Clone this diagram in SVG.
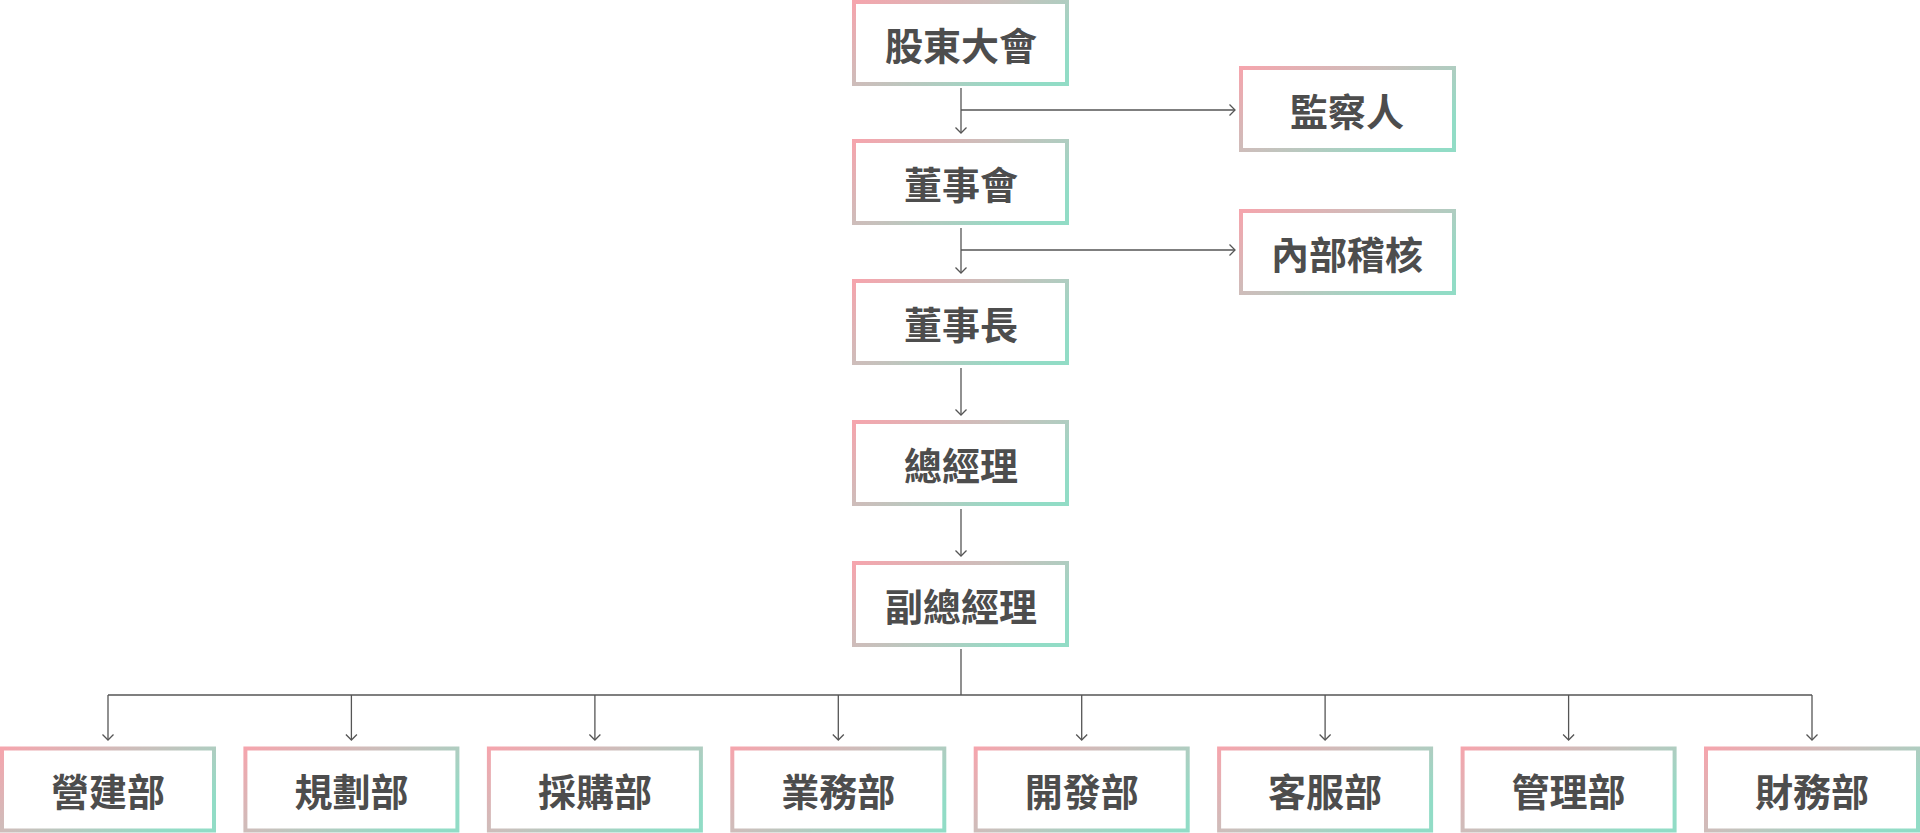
<svg xmlns="http://www.w3.org/2000/svg" width="1920" height="833" viewBox="0 0 1920 833">
<defs>
<linearGradient id="g" x1="0" y1="0" x2="1" y2="0.6">
<stop offset="0" stop-color="#f5a5ad"/>
<stop offset="0.5" stop-color="#c9c0bc"/>
<stop offset="1" stop-color="#92dcc6"/>
</linearGradient>
<marker id="arr" markerUnits="userSpaceOnUse" markerWidth="14" markerHeight="14" viewBox="-7 -7 14 14" refX="0" refY="0" orient="auto">
<path d="M-5.5,-5.5 L0,0 L-5.5,5.5" fill="none" stroke="#555" stroke-width="1.3"/>
</marker>
<style>
.box{fill:#fff;stroke:url(#g);stroke-width:4}
.t{font-family:"Noto Sans CJK TC","Noto Sans CJK SC",sans-serif;font-weight:700;font-size:38px;fill:#4d4d4d;text-anchor:middle;dominant-baseline:central}
.c{fill:none;stroke:#555;stroke-width:1.3}
.a{marker-end:url(#arr)}
</style>
</defs>
<g id="connectors">
<path class="c a" d="M961,88 V133"/>
<path class="c a" d="M961,110 H1235"/>
<path class="c a" d="M961,228 V273"/>
<path class="c a" d="M961,250 H1235"/>
<path class="c a" d="M961,368 V415"/>
<path class="c a" d="M961,509 V556"/>
<path class="c" d="M961,649 V695 M108,695 H1812"/>
<path class="c a" d="M108,695 V740"/>
<path class="c a" d="M351.4,695 V740"/>
<path class="c a" d="M594.9,695 V740"/>
<path class="c a" d="M838.3,695 V740"/>
<path class="c a" d="M1081.7,695 V740"/>
<path class="c a" d="M1325.1,695 V740"/>
<path class="c a" d="M1568.6,695 V740"/>
<path class="c a" d="M1812,695 V740"/>
</g>
<g id="n-gudong"><rect class="box" x="854" y="2" width="213" height="82"/><text class="t" x="961" y="43">股東大會</text></g>
<g id="n-jiancha"><rect class="box" x="1241" y="68" width="213" height="82"/><text class="t" x="1347" y="109">監察人</text></g>
<g id="n-dongshihui"><rect class="box" x="854" y="141" width="213" height="82"/><text class="t" x="961" y="182">董事會</text></g>
<g id="n-neibu"><rect class="box" x="1241" y="211" width="213" height="82"/><text class="t" x="1347" y="252">內部稽核</text></g>
<g id="n-dongshizhang"><rect class="box" x="854" y="281" width="213" height="82"/><text class="t" x="961" y="322">董事長</text></g>
<g id="n-zongjingli"><rect class="box" x="854" y="422" width="213" height="82"/><text class="t" x="961" y="463">總經理</text></g>
<g id="n-fuzong"><rect class="box" x="854" y="563" width="213" height="82"/><text class="t" x="961" y="604">副總經理</text></g>
<g id="n-yingjian"><rect class="box" x="2" y="748.5" width="212" height="82"/><text class="t" x="108" y="789.5">營建部</text></g>
<g id="n-guihua"><rect class="box" x="245.4" y="748.5" width="212" height="82"/><text class="t" x="351.4" y="789.5">規劃部</text></g>
<g id="n-caigou"><rect class="box" x="488.9" y="748.5" width="212" height="82"/><text class="t" x="594.9" y="789.5">採購部</text></g>
<g id="n-yewu"><rect class="box" x="732.3" y="748.5" width="212" height="82"/><text class="t" x="838.3" y="789.5">業務部</text></g>
<g id="n-kaifa"><rect class="box" x="975.7" y="748.5" width="212" height="82"/><text class="t" x="1081.7" y="789.5">開發部</text></g>
<g id="n-kefu"><rect class="box" x="1219.1" y="748.5" width="212" height="82"/><text class="t" x="1325.1" y="789.5">客服部</text></g>
<g id="n-guanli"><rect class="box" x="1462.6" y="748.5" width="212" height="82"/><text class="t" x="1568.6" y="789.5">管理部</text></g>
<g id="n-caiwu"><rect class="box" x="1706" y="748.5" width="212" height="82"/><text class="t" x="1812" y="789.5">財務部</text></g>
</svg>
